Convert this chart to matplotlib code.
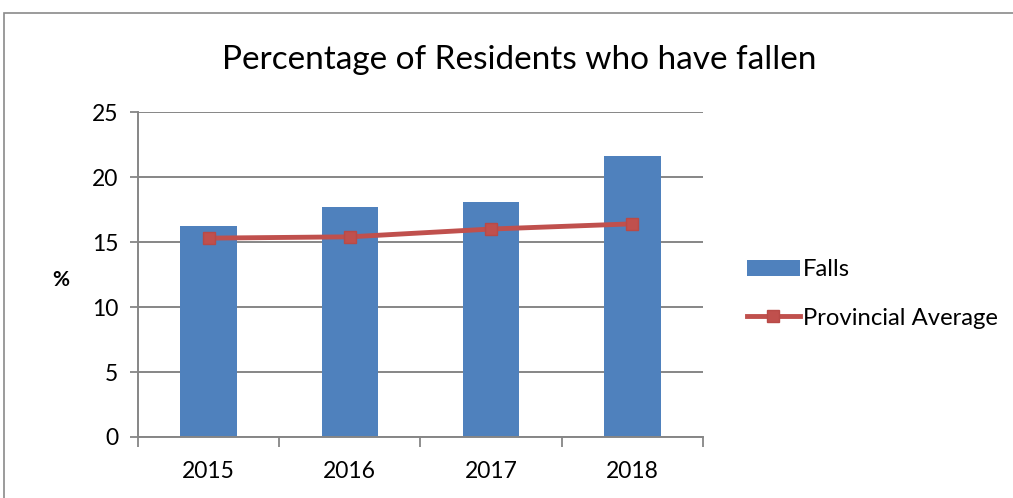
import numpy as np
import matplotlib
matplotlib.use('Agg')
import matplotlib.pyplot as plt
from matplotlib.patches import Rectangle

years = ['2015', '2016', '2017', '2018']
falls = [16.2, 17.7, 18.1, 21.6]
provincial_avg = [15.3, 15.4, 16.0, 16.4]
yticks = [0, 5, 10, 15, 20, 25]

plt.rcParams['font.family'] = ['Lato', 'DejaVu Sans']
grid_col = '#868686'

fig = plt.figure(figsize=(10.13, 4.98), dpi=100)
ax = fig.add_axes([0.1362, 0.1225, 0.5578, 0.6525])

x = np.arange(len(years))
bars = ax.bar(x, falls, width=0.4, color='#4F81BD', label='Falls', zorder=2)
line, = ax.plot(x, provincial_avg, color='#C0504D', lw=3.5, marker='s', markersize=8.5,
                markerfacecolor='#C0504D', markeredgecolor='#B84A47',
                label='Provincial Average', zorder=3)

ax.set_xlim(-0.5, 3.5)
ax.set_ylim(0, 25)
ax.set_yticks(yticks)
ax.set_xticks(x)
ax.set_xticklabels(years)
ax.set_xticks(np.arange(-0.5, 4, 1), minor=True)
ax.tick_params(axis='x', which='major', length=0, labelsize=16.5, pad=17)
ax.tick_params(axis='x', which='minor', length=7, width=1.3, color=grid_col, direction='out')
ax.tick_params(axis='y', length=6, width=1.3, color=grid_col, labelsize=16.5, pad=8)
ax.yaxis.grid(True, color=grid_col, lw=1.4, zorder=0)
ax.set_axisbelow(True)
for s in ['top', 'right']:
    ax.spines[s].set_visible(False)
for s in ['left', 'bottom']:
    ax.spines[s].set_color(grid_col)
    ax.spines[s].set_linewidth(1.4)

ax.set_ylabel('%', rotation=0, fontsize=15, fontweight='bold', va='center')
ax.yaxis.set_label_coords(-0.137, 0.483)

fig.text(0.513, 0.88, 'Percentage of Residents who have fallen', ha='center', va='center',
         fontsize=24)

ax.legend([bars, line], ['Falls', 'Provincial Average'], loc='center left',
          bbox_to_anchor=(1.04, 0.44), frameon=False, fontsize=17.2,
          handlelength=2.2, handleheight=0.7, handletextpad=0.15, labelspacing=1.15)

fig.patches.append(Rectangle((0.004, -0.02), 1.1, 0.994, transform=fig.transFigure,
                             fill=False, edgecolor='#8A8A8A', lw=1.2))

fig.savefig('out.png', dpi=100)
